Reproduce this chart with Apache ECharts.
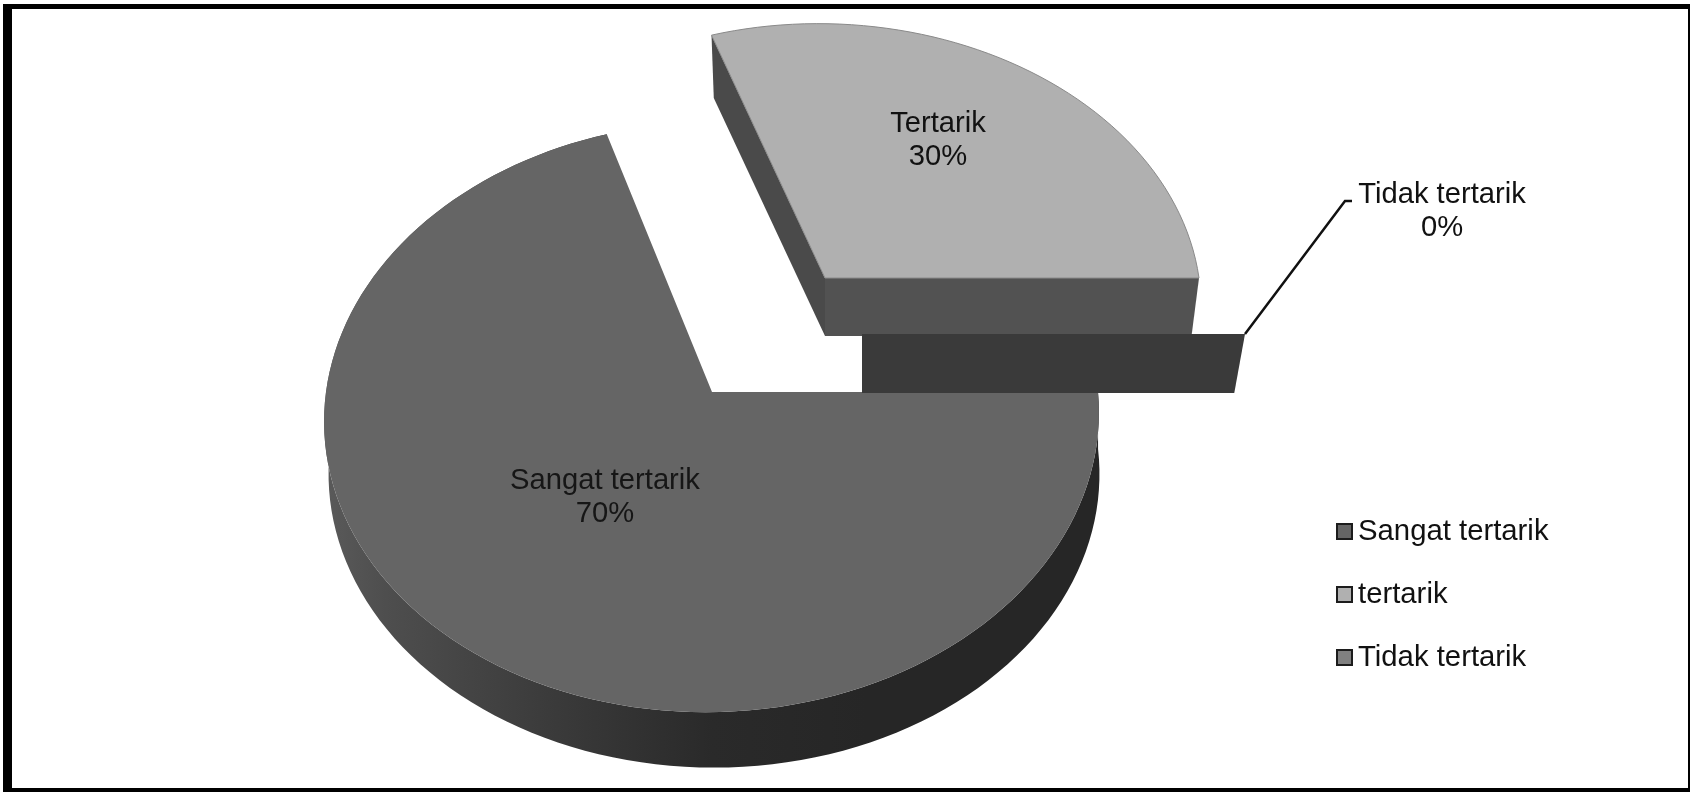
<!DOCTYPE html>
<html>
<head>
<meta charset="utf-8">
<style>html,body{margin:0;padding:0;background:#fff}#c{width:1690px;height:792px}</style>
<script src="https://cdn.jsdelivr.net/npm/echarts@6/dist/echarts.min.js"></script>
</head>
<body>
<div id="c"></div>
<script>
// ---- data ----
var legendNames = ['Sangat tertarik', 'tertarik', 'Tidak tertarik'];
var labelNames = ['Sangat tertarik', 'Tertarik', 'Tidak tertarik'];
var percentValues = [70, 30, 0];

// ---- projected pie geometry, one entry per slice ----
var PERSPECTIVE = 0.085;
var FONT = '"Liberation Sans", Arial, sans-serif';
var sliceGeometry = [
  {cx: 712, cy: 392, r: 386, y: 293, depth: 57, shrink: 0.995, shear: -0.02, lowerShear: 0, lowerDx: 2, labelX: 605, labelY: 497},
  {cx: 825, cy: 278, r: 374, y: 276, depth: 58, shrink: 0.98, shear: 0.027, lowerShear: 0.027, lowerDx: 0, labelX: 938, labelY: 140},
  {cx: 862, cy: 334, r: 383, y: 290, depth: 59, shrink: 0.972, shear: 0, lowerShear: 0, lowerDx: 0, labelX: 1442, labelY: 211}
];
var sliceColors = ['#656565', '#b0b0b0', '#808080'];

var total = percentValues.reduce(function (a, b) { return a + b; }, 0);

function project(g, deg, lower) {
  var t = deg * Math.PI / 180;
  var s = Math.sin(t), c = Math.cos(t);
  var w = 1 + PERSPECTIVE * s;
  var f = lower ? g.shrink : 1;
  var dy = -f * g.y * s / w;
  var sh = lower ? g.lowerShear : g.shear;
  return [
    g.cx + (lower ? g.lowerDx : 0) + f * g.r * c / w + sh * dy,
    g.cy + (lower ? g.depth : 0) + dy
  ];
}
function arc(g, from, to, lower) {
  var pts = [], n = Math.max(1, Math.ceil(Math.abs(to - from) / 2));
  for (var i = 0; i <= n; i++) pts.push(project(g, from + (to - from) * i / n, lower));
  return pts;
}
function centre(g, lower) {
  return [g.cx + (lower ? g.lowerDx : 0), g.cy + (lower ? g.depth : 0)];
}
function cutFace(g, deg, fill) {
  return {
    type: 'polygon',
    shape: {points: [centre(g, false), project(g, deg, false), project(g, deg, true), centre(g, true)]},
    style: {fill: fill}
  };
}
function lineLabel(g, text, fill) {
  return {
    type: 'text',
    style: {
      text: text, x: g.labelX, y: g.labelY, fill: fill,
      fontSize: 29.2, fontFamily: FONT, lineHeight: 33,
      align: 'center', verticalAlign: 'middle'
    }
  };
}

function renderSlice(params, api) {
  var idx = params.seriesIndex;
  var g = sliceGeometry[idx];
  var before = percentValues.slice(0, idx).reduce(function (a, b) { return a + b; }, 0);
  // slices run clockwise from the 3 o'clock direction
  var start = -before / total * 360;
  var end = start - api.value(0) / total * 360;
  var children = [];
  var text = labelNames[idx] + '\n' + api.value(0) + '%';

  if (idx === 0) {
    var topArc = arc(g, start, end, false);
    var lowArc = arc(g, start, end, true).reverse();
    children.push({
      type: 'polygon',
      shape: {points: topArc.concat(lowArc)},
      style: {
        fill: new echarts.graphic.LinearGradient(0, 0, 1, 0, [
          {offset: 0, color: '#5a5a5a'},
          {offset: 0.08, color: '#4e4e4e'},
          {offset: 0.3, color: '#3a3a3a'},
          {offset: 0.5, color: '#2a2a2a'},
          {offset: 0.7, color: '#262626'},
          {offset: 1, color: '#262626'}
        ])
      }
    });
    children.push({
      type: 'polygon',
      shape: {points: [centre(g, false)].concat(topArc)},
      style: {fill: sliceColors[idx]}
    });
    children.push(lineLabel(g, text, '#161616'));
  } else if (idx === 1) {
    children.push(cutFace(g, start, '#4a4a4a'));
    children.push(cutFace(g, end, '#525252'));
    children.push({
      type: 'polygon',
      shape: {points: [centre(g, false)].concat(arc(g, start, end, false))},
      style: {fill: sliceColors[idx], stroke: '#8a8a8a', lineWidth: 1}
    });
    children.push(lineLabel(g, text, '#111111'));
  } else {
    // a zero-width slice shows only its cut face
    children.push(cutFace(g, start, '#3a3a3a'));
    var outer = project(g, start, false);
    children.push({
      type: 'polyline',
      shape: {points: [outer, [outer[0] + 100, outer[1] - 133], [outer[0] + 107, outer[1] - 133]]},
      style: {fill: 'none', stroke: '#111111', lineWidth: 2.5}
    });
    children.push(lineLabel(g, text, '#111111'));
  }
  return {type: 'group', children: children};
}

var frameRects = [
  {x: 3, y: 4, w: 1687, h: 5},
  {x: 3, y: 4, w: 9, h: 788},
  {x: 3, y: 788, w: 1687, h: 4},
  {x: 1688, y: 4, w: 2, h: 788}
];

var chart = echarts.init(document.getElementById('c'));
chart.setOption({
  animation: false,
  backgroundColor: '#ffffff',
  tooltip: {show: false},
  legend: {
    orient: 'vertical',
    left: 1331,
    top: 512,
    icon: 'rect',
    itemWidth: 15,
    itemHeight: 15,
    itemGap: 34,
    selectedMode: false,
    data: legendNames,
    itemStyle: {borderColor: '#1c1c1c', borderWidth: 2},
    textStyle: {fontSize: 29.3, fontFamily: FONT, color: '#111111', padding: [0, 0, 0, 1]}
  },
  graphic: frameRects.map(function (r) {
    return {
      type: 'rect', z: 100,
      shape: {x: r.x, y: r.y, width: r.w, height: r.h},
      style: {fill: '#000000'}
    };
  }),
  series: legendNames.map(function (name, i) {
    return {
      type: 'custom',
      name: name,
      coordinateSystem: 'none',
      renderItem: renderSlice,
      itemStyle: {color: sliceColors[i]},
      z: i + 2,
      data: [[percentValues[i]]]
    };
  })
});
</script>
</body>
</html>
